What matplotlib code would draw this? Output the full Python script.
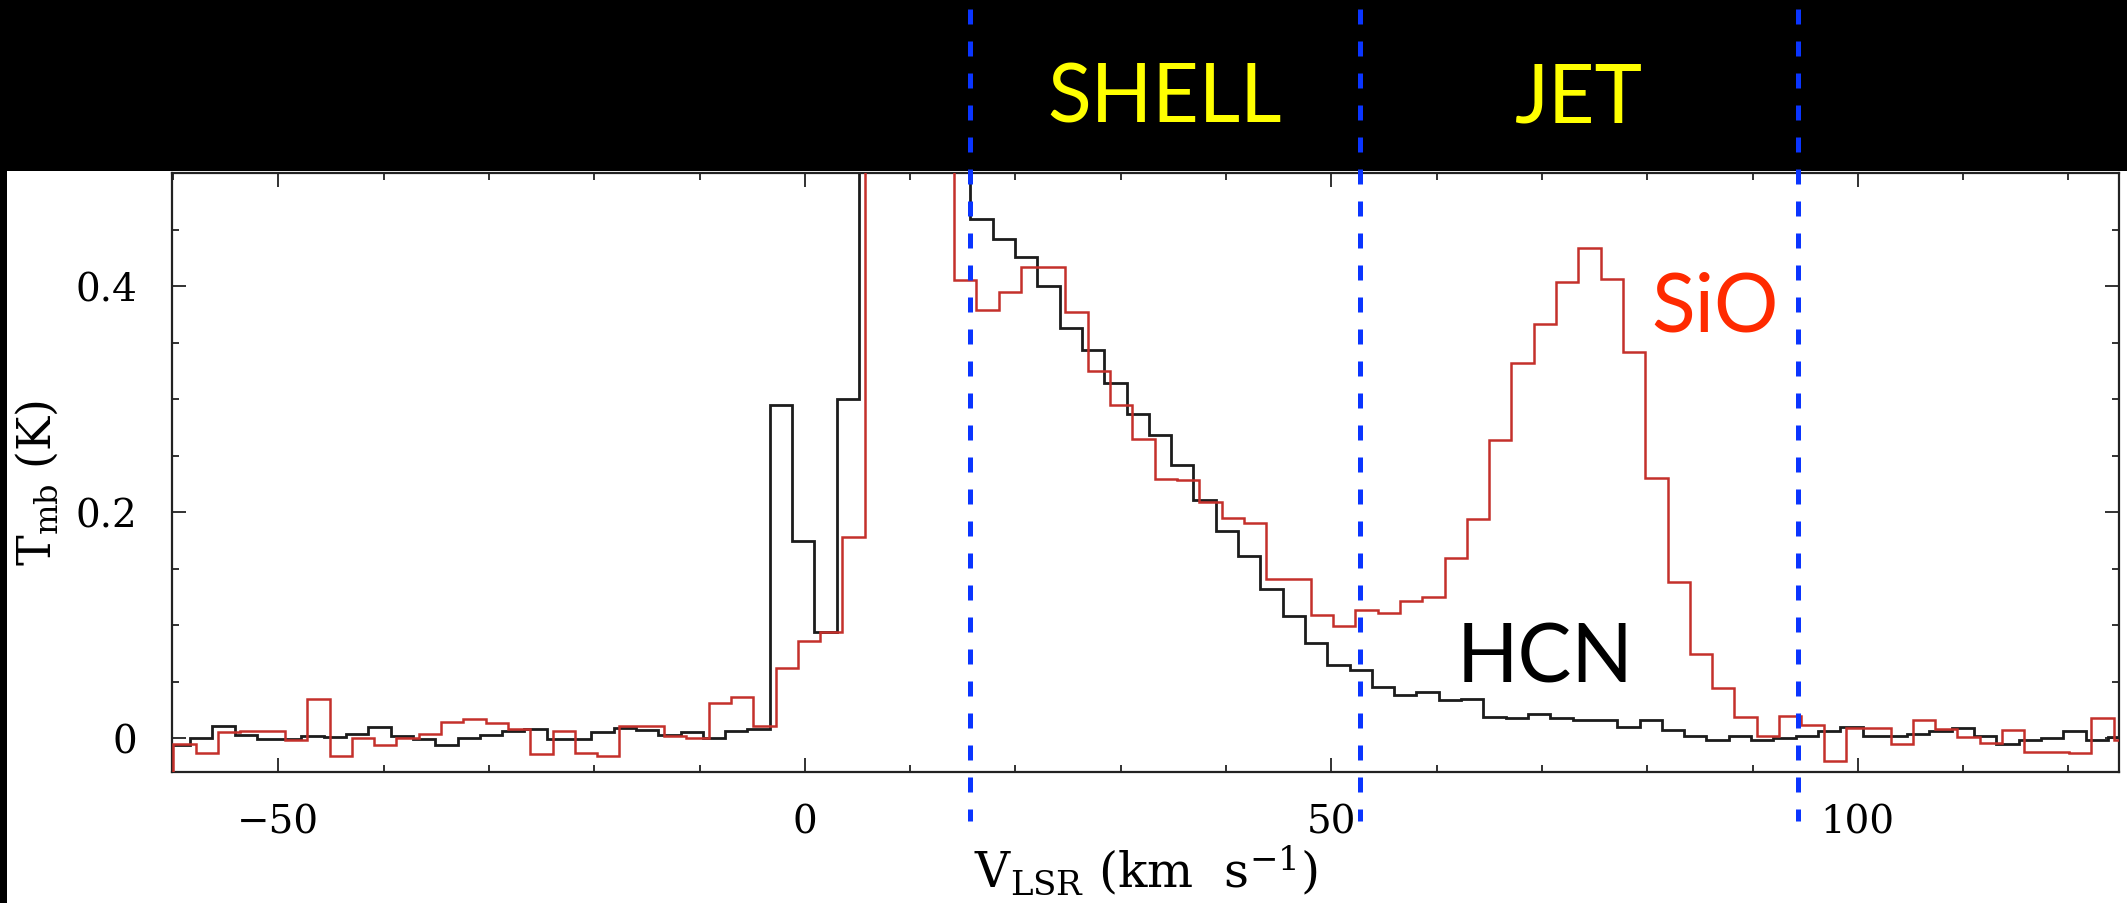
import numpy as np
import matplotlib.pyplot as plt
from matplotlib.lines import Line2D
from matplotlib.patches import Rectangle
from matplotlib.ticker import MultipleLocator, FixedLocator, FuncFormatter
from matplotlib.transforms import blended_transform_factory

plt.rcParams['font.family'] = 'DejaVu Serif'
plt.rcParams['mathtext.fontset'] = 'dejavuserif'

# Channel grids (km/s): left edge of the first channel, common channel width
chan_width = 2.118
hcn_v_start = -60.52
sio_v_start = -62.09

# Main-beam temperatures per channel (K)
hcn_tmb = [-0.006, 0.000, 0.011, 0.003, -0.001, -0.001, 0.002, 0.001, 0.004, 0.010,
           0.002, -0.001, -0.006, 0.000, 0.003, 0.006, 0.008, -0.001, -0.001, 0.005,
           0.009, 0.007, 0.003, 0.005, 0.000, 0.006, 0.008, 0.295, 0.174, 0.094,
           0.300, 0.62, 0.85, 0.90, 0.74, 0.52, 0.459, 0.442, 0.426, 0.400,
           0.363, 0.343, 0.314, 0.287, 0.268, 0.242, 0.211, 0.183, 0.161, 0.132,
           0.108, 0.084, 0.065, 0.060, 0.045, 0.038, 0.041, 0.034, 0.035, 0.019,
           0.018, 0.021, 0.018, 0.016, 0.016, 0.010, 0.016, 0.007, 0.002, -0.002,
           0.002, -0.002, 0.000, 0.002, 0.006, 0.010, 0.002, 0.002, 0.004, 0.006,
           0.009, 0.002, -0.005, -0.002, 0.000, 0.006, -0.002, 0.001]

sio_tmb = [-0.045, -0.005, -0.013, 0.005, 0.006, 0.006, -0.002, 0.035, -0.016, 0.000,
           -0.006, 0.000, 0.004, 0.014, 0.017, 0.013, 0.008, -0.014, 0.006, -0.013,
           -0.016, 0.011, 0.011, 0.002, 0.000, 0.031, 0.036, 0.011, 0.062, 0.086,
           0.094, 0.178, 0.58, 0.80, 0.76, 0.60, 0.405, 0.379, 0.395, 0.417,
           0.417, 0.377, 0.325, 0.295, 0.265, 0.229, 0.228, 0.209, 0.195, 0.190,
           0.141, 0.141, 0.109, 0.099, 0.113, 0.111, 0.121, 0.125, 0.159, 0.194,
           0.264, 0.332, 0.366, 0.404, 0.434, 0.406, 0.342, 0.230, 0.138, 0.074,
           0.044, 0.019, 0.002, 0.020, 0.012, -0.020, 0.009, 0.009, -0.005, 0.016,
           0.008, 0.001, -0.004, 0.007, -0.012, -0.012, -0.013, 0.018, -0.002]

# Velocity boundaries between components and their names
region_bounds = [15.7, 52.7, 94.3]
region_names = ['SHELL', 'JET']

hcn_edges = hcn_v_start + chan_width * np.arange(len(hcn_tmb) + 1)
sio_edges = sio_v_start + chan_width * np.arange(len(sio_tmb) + 1)

fig = plt.figure(figsize=(21.27, 9.04), dpi=100, facecolor='white')
ax = fig.add_axes([0.0809, 0.1449, 0.9153, 0.6626])

ax.stairs(hcn_tmb, hcn_edges, baseline=None, color='#1c1c1c', lw=2.0, zorder=2)
ax.stairs(sio_tmb, sio_edges, baseline=None, color='#c4302b', lw=1.8, zorder=3)

ax.set_xlim(-60.1, 124.8)
ax.set_ylim(-0.030, 0.500)

ax.xaxis.set_major_locator(MultipleLocator(50))
ax.xaxis.set_minor_locator(MultipleLocator(10))
ax.yaxis.set_major_locator(FixedLocator([0, 0.2, 0.4]))
ax.yaxis.set_minor_locator(MultipleLocator(0.05))
ax.yaxis.set_major_formatter(FuncFormatter(lambda v, p: '0' if abs(v) < 1e-9 else f'{v:.1f}'))

ax.tick_params(which='both', direction='in', top=True, right=True, width=1.3,
               colors='#222222', labelcolor='black')
ax.tick_params(which='major', length=10, labelsize=28)
ax.tick_params(which='minor', length=5)
ax.tick_params(axis='x', pad=23)
ax.tick_params(axis='y', pad=25)
for s in ax.spines.values():
    s.set_linewidth(1.6)
    s.set_color('#222222')

ax.set_xlabel(r'V$_{\rm LSR}$ (km  s$^{-1}$)', fontsize=35, va='top')
ax.xaxis.set_label_coords(0.5, -0.118)
ax.set_ylabel(r'T$_{\rm mb}$ (K)', fontsize=33)
ax.yaxis.set_label_coords(-0.057, 0.484)

# molecule labels
ax.text(80.4, 0.361, 'SiO', color='#ff2a00', fontsize=58, family='Lato',
        ha='left', va='baseline', zorder=4)
ax.text(61.9, 0.050, 'HCN', color='black', fontsize=58, family='Lato',
        ha='left', va='baseline', zorder=4)

# black title band across the top and thin strip on the left
fig.patches.append(Rectangle((0, 1 - 172 / 904), 1, 172 / 904, transform=fig.transFigure,
                             facecolor='black', edgecolor='none', zorder=1))
fig.patches.append(Rectangle((0, 0), 7 / 2127, 1, transform=fig.transFigure,
                             facecolor='black', edgecolor='none', zorder=1))

trans = blended_transform_factory(ax.transData, fig.transFigure)
for i, name in enumerate(region_names):
    vmid = 0.5 * (region_bounds[i] + region_bounds[i + 1])
    fig.text(vmid, 0.865, name, transform=trans, color='#ffff00', fontsize=58,
             family='Lato', ha='center', va='baseline', zorder=3)

for v in region_bounds:
    fig.lines.append(Line2D([v, v], [1 - 10 / 904, 1 - 822 / 904], transform=trans,
                            color='#0a35ff', lw=3.6, linestyle=(0, (3.0, 3.4)),
                            zorder=6))

fig.savefig('out.png', dpi=100, facecolor='white')
